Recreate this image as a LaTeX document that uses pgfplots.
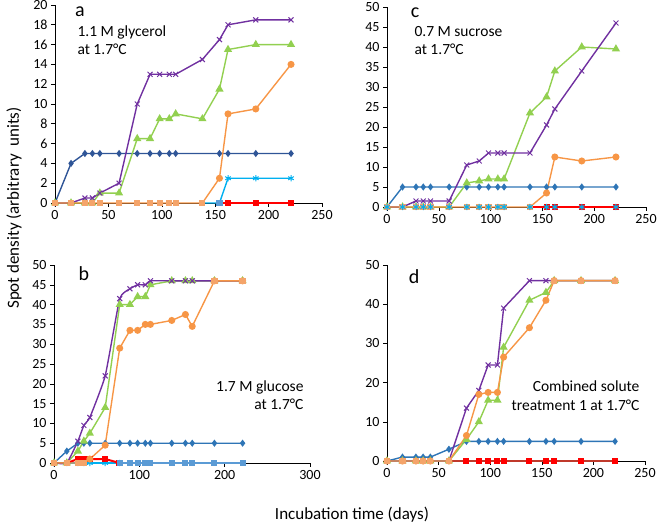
\documentclass[border=0pt]{standalone}
\usepackage{pgfplots}
\pgfplotsset{compat=1.18}
\usepackage{fontspec}
\setmainfont{Carlito}
\definecolor{cblue}{HTML}{2E75B6}
\definecolor{cnavy}{HTML}{2F5597}
\definecolor{cred}{HTML}{FF0000}
\definecolor{cdred}{HTML}{C0392B}
\definecolor{ccyan}{HTML}{00B0F0}
\definecolor{cgreen}{HTML}{92D050}
\definecolor{cpurple}{HTML}{7030A0}
\definecolor{corange}{HTML}{F79646}
\definecolor{csq}{HTML}{F4A46A}
\definecolor{csteel}{HTML}{5B9BD5}
\pgfplotsset{
  panel/.style={scale only axis, anchor=south west,
    axis x line*=bottom, axis y line*=left,
    tick align=outside, major tick length=4bp,
    tick style={black, line width=0.6pt},
    axis line style={black, line width=0.7pt},
    ticklabel style={font=\fontsize{14bp}{15bp}\selectfont},
    /pgf/number format/assume math mode=true,
    xmin=0, ymin=0, clip=false,
    every axis plot/.append style={line width=1.4pt}},
  sB/.style={cblue, mark=diamond*, mark size=2.5bp},
  sR/.style={cred, mark=square*, mark size=2.3bp},
  sC/.style={ccyan, mark=asterisk, mark size=3.2bp, mark options={line width=1pt}},
  sG/.style={cgreen, mark=triangle*, mark size=3.4bp},
  sP/.style={cpurple, mark=x, mark size=3.5bp, mark options={line width=1pt}},
  sO/.style={corange, mark=*, mark size=2.8bp},
  sQ/.style={csq, only marks, mark=square*, mark size=2.4bp},
}
\begin{document}
\begin{tikzpicture}
\useasboundingbox (0,0) rectangle (657bp,524bp);
% ---------------- panel a ----------------
\begin{axis}[panel, at={(55bp,321bp)}, width=267bp, height=198bp,
  xmax=250, ymax=20, xtick={0,50,...,250}, ytick={0,2,...,20}]
\addplot[sB, cnavy] coordinates {(0,0)(15,4)(28,5)(35,5)(42,5)(60,5)(77,5)(89,5)(98,5)(107,5)(113,5)(154,5)(162,5)(188,5)(221,5)};
\addplot[sR] coordinates {(154,0)(162,0)(188,0)(221,0)};
\addplot[sC, mark indices={3,4,5}] coordinates {(138,0)(154,0)(162,2.5)(188,2.5)(221,2.5)};
\addplot[sG] coordinates {(0,0)(15,0)(28,0)(35,0)(42,1)(60,1)(77,6.5)(89,6.5)(98,8.5)(107,8.5)(113,9)(138,8.5)(154,11.5)(162,15.5)(188,16)(221,16)};
\addplot[sP] coordinates {(0,0)(15,0)(28,0.5)(35,0.5)(42,1)(60,2)(77,10)(89,13)(98,13)(107,13)(113,13)(138,14.5)(154,16.5)(162,18)(188,18.5)(221,18.5)};
\addplot[sO, mark indices={13,14,15,16}] coordinates {(0,0)(15,0)(28,0)(35,0)(42,0)(60,0)(77,0)(89,0)(98,0)(107,0)(113,0)(138,0)(154,2.5)(162,9)(188,9.5)(221,14)};
\addplot[sQ] coordinates {(0,0)(15,0)(28,0)(35,0)(42,0)(60,0)(77,0)(89,0)(98,0)(107,0)(113,0)(138,0)};
\addplot[sQ, csteel] coordinates {(154,0)};
\end{axis}
% ---------------- panel c ----------------
\begin{axis}[panel, at={(387bp,317bp)}, width=259bp, height=200bp,
  xmax=250, ymax=50, xtick={0,50,...,250}, ytick={0,5,...,50}]
\addplot[sB] coordinates {(0,0)(15,5)(28,5)(35,5)(42,5)(60,5)(77,5)(89,5)(98,5)(107,5)(113,5)(138,5)(154,5)(162,5)(188,5)(221,5)};
\addplot[sR, mark indices={2,3,4,5}] coordinates {(138,0)(154,0)(162,0)(188,0)(221,0)};
\addplot[sG] coordinates {(0,0)(15,0)(28,0)(35,0)(42,0)(60,0)(77,6)(89,6.5)(98,7)(107,7)(113,7)(138,23.5)(154,27.5)(162,34)(188,40)(221,39.5)};
\addplot[sP] coordinates {(0,0)(15,0)(28,1.5)(35,1.5)(42,1.5)(60,1.5)(77,10.5)(89,11.5)(98,13.5)(107,13.5)(113,13.5)(138,13.5)(154,20.5)(162,24.5)(188,34)(221,46)};
\addplot[sO, mark indices={13,14,15,16}] coordinates {(0,0)(15,0)(28,0)(35,0)(42,0)(60,0)(77,0)(89,0)(98,0)(107,0)(113,0)(138,0)(154,3.5)(162,12.5)(188,11.5)(221,12.5)};
\addplot[sQ] coordinates {(0,0)(15,0)(28,0)(35,0)(42,0)(60,0)(77,0)(89,0)(98,0)(107,0)(113,0)(138,0)};
\addplot[sC, only marks] coordinates {(0,0)(15,0)(28,0)(35,0)(42,0)(60,0)(77,0)(89,0)(98,0)(107,0)(113,0)(138,0)(154,0)(162,0)(188,0)(221,0)};
\end{axis}
% ---------------- panel b ----------------
\begin{axis}[panel, at={(54bp,61bp)}, width=256bp, height=198bp,
  xmax=300, ymax=50, xtick={0,100,200,300}, ytick={0,5,...,50}]
\addplot[sB] coordinates {(0,0)(15,3)(28,5)(35,5)(42,5)(60,5)(77,5)(89,5)(98,5)(107,5)(113,5)(138,5)(154,5)(162,5)(188,5)(221,5)};
\addplot[sC] coordinates {(0,0)(15,0)(28,0)(35,0)(42,0)(60,0)(77,0)};
\addplot[sR, line width=2pt] coordinates {(0,0)(15,0)(28,1)(35,1)(42,1)(60,1)(77,0)};
\addplot[csteel, mark=square*, mark size=2.3bp] coordinates {(77,0)(89,0)(98,0)(107,0)(113,0)(138,0)(154,0)(162,0)(188,0)(221,0)};
\addplot[sG] coordinates {(0,0)(15,0)(28,3)(35,5.5)(42,7.5)(60,14)(77,40)(89,40)(98,42)(107,42)(113,45)(138,46)(154,46)(162,46)(188,46)(221,46)};
\addplot[sP, smooth, tension=0.25] coordinates {(0,0)(15,0)(28,5.5)(35,9.5)(42,11.5)(60,22)(77,41.5)(89,44)(98,45)(107,45)(113,46)(138,46)(154,46)(162,46)(188,46)(221,46)};
\addplot[sO, mark indices={5,...,16}] coordinates {(0,0)(15,0)(28,0)(35,0)(42,1)(60,4.5)(77,29)(89,33.5)(98,33.5)(107,35)(113,35)(138,36)(154,37.5)(162,34.5)(188,46)(221,46)};
\addplot[sQ] coordinates {(0,0)(15,0)(28,0)(35,0)(188,46)(221,46)};
\end{axis}
% ---------------- panel d ----------------
\begin{axis}[panel, at={(387bp,63bp)}, width=258bp, height=196bp,
  xmax=250, ymax=50, xtick={0,50,...,250}, ytick={0,10,...,50}]
\addplot[sC, mark=none] coordinates {(0,0)(221,0)};
\addplot[sB] coordinates {(0,0)(15,1)(28,1)(35,1)(42,1)(60,3)(77,5)(89,5)(98,5)(107,5)(113,5)(138,5)(154,5)(162,5)(188,5)(221,5)};
\addplot[sR, cdred, mark options={fill=cred, draw=cred}, mark indices={2,...,11}] coordinates {(60,0)(77,0)(89,0)(98,0)(107,0)(113,0)(138,0)(154,0)(162,0)(188,0)(221,0)};
\addplot[sG] coordinates {(0,0)(15,0)(28,0)(35,0)(42,0)(60,0)(77,5.5)(89,10)(98,15.5)(107,15.5)(113,29)(138,41)(154,43)(162,46)(188,46)(221,46)};
\addplot[sP] coordinates {(0,0)(15,0)(28,0)(35,0)(42,0)(60,0)(77,13.5)(89,18)(98,24.5)(107,24.5)(113,39)(138,46)(154,46)(162,46)(188,46)(221,46)};
\addplot[sO] coordinates {(0,0)(15,0)(28,0)(35,0)(42,0)(60,0)(77,6.5)(89,17)(98,17.5)(107,17.5)(113,26.5)(138,34)(154,41)(162,46)(188,46)(221,46)};
\addplot[sQ] coordinates {(0,0)(15,0)(28,0)(35,0)(42,0)(60,0)(162,46)(188,46)(221,46)};
\end{axis}
% ---------------- texts ----------------
\node[font=\fontsize{20bp}{22bp}\selectfont] at (80bp,512bp) {a};
\node[anchor=base west, font=\fontsize{15.5bp}{17bp}\selectfont] at (74bp,487bp) {1.1 M glycerol};
\node[anchor=base west, font=\fontsize{15.5bp}{17bp}\selectfont] at (74bp,469bp) {at 1.7°C};
\node[font=\fontsize{20bp}{22bp}\selectfont] at (415bp,511bp) {c};
\node[anchor=base west, font=\fontsize{15.5bp}{17bp}\selectfont] at (411bp,487bp) {0.7 M sucrose};
\node[anchor=base west, font=\fontsize{15.5bp}{17bp}\selectfont] at (411bp,469bp) {at 1.7°C};
\node[font=\fontsize{20bp}{22bp}\selectfont] at (84bp,250bp) {b};
\node[anchor=base east, font=\fontsize{15.5bp}{17bp}\selectfont] at (307bp,132bp) {1.7 M glucose};
\node[anchor=base east, font=\fontsize{15.5bp}{17bp}\selectfont] at (307bp,114bp) {at 1.7°C};
\node[font=\fontsize{20bp}{22bp}\selectfont] at (414bp,247bp) {d};
\node[anchor=base east, font=\fontsize{15.5bp}{17bp}\selectfont] at (643bp,132bp) {Combined solute};
\node[anchor=base east, font=\fontsize{15.5bp}{17bp}\selectfont] at (643bp,113bp) {treatment 1 at 1.7°C};
\node[anchor=base, font=\fontsize{17bp}{19bp}\selectfont] at (352bp,5bp) {Incubation time (days)};
\node[rotate=90, font=\fontsize{17bp}{19bp}\selectfont] at (14bp,316bp) {Spot density (arbitrary\ \ units)};
\end{tikzpicture}
\end{document}
